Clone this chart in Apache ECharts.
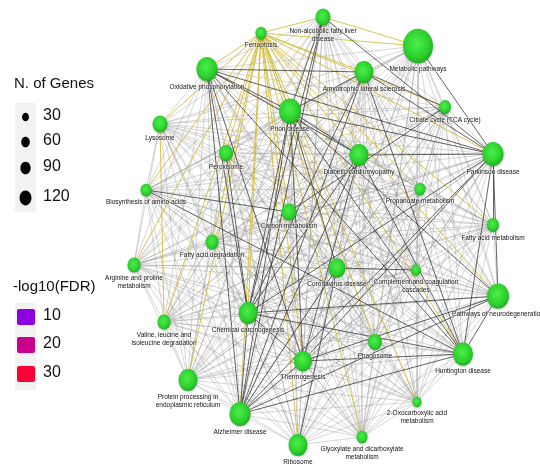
<!DOCTYPE html>
<html><head><meta charset="utf-8">
<script src="https://cdn.jsdelivr.net/npm/echarts@6/dist/echarts.min.js"></script>
<style>html,body{margin:0;padding:0;background:#fff}#c{width:540px;height:471px}</style>
</head><body><div id="c"></div>
<script>
// ---- data ----
const nodeNames = ["Ferroptosis","Non-alcoholic fatty liver disease","Metabolic pathways","Oxidative phosphorylation","Amyotrophic lateral sclerosis","Citrate cycle (TCA cycle)","Prion disease","Lysosome","Peroxisome","Diabetic cardiomyopathy","Parkinson disease","Biosynthesis of amino acids","Propanoate metabolism","Carbon metabolism","Fatty acid metabolism","Fatty acid degradation","Arginine and proline metabolism","Coronavirus disease","Complement and coagulation cascades","Pathways of neurodegeneration","Chemical carcinogenesis","Valine, leucine and isoleucine degradation","Phagosome","Thermogenesis","Huntington disease","Protein processing in endoplasmic reticulum","2-Oxocarboxylic acid metabolism","Alzheimer disease","Ribosome","Glyoxylate and dicarboxylate metabolism"];
const nodeLabels = ["Ferroptosis","Non-alcoholic fatty liver\ndisease","Metabolic pathways","Oxidative phosphorylation","Amyotrophic lateral sclerosis","Citrate cycle (TCA cycle)","Prion disease","Lysosome","Peroxisome","Diabetic cardiomyopathy","Parkinson disease","Biosynthesis of amino acids","Propanoate metabolism","Carbon metabolism","Fatty acid metabolism","Fatty acid degradation","Arginine and proline\nmetabolism","Coronavirus disease","Complement and coagulation\ncascades","Pathways of neurodegeneration","Chemical carcinogenesis","Valine, leucine and\nisoleucine degradation","Phagosome","Thermogenesis","Huntington disease","Protein processing in\nendoplasmic reticulum","2-Oxocarboxylic acid\nmetabolism","Alzheimer disease","Ribosome","Glyoxylate and dicarboxylate\nmetabolism"];
// network layout coordinates (layout space)
const layoutX = [261,323,418,207,364,445,290,160,226,359,493,146,420,289,493,212,134,337,416,498,248,164,375,303,463,188,417,240,298,362];
const layoutY = [33,17,46,69,72,107,111,124,153,155,154,190,189,212,225,242,265,268,270,296,313,322,342,361,354,380,402,414,445,437];
const nGenes = [27,50,200,98,80,32,107,50,43,80,98,27,27,50,32,38,38,64,22,107,80,38,43,72,89,80,18,98,80,27];

const yellowEdges = [
 ["Ferroptosis","Non-alcoholic fatty liver disease"],["Ferroptosis","Metabolic pathways"],["Ferroptosis","Oxidative phosphorylation"],
 ["Ferroptosis","Amyotrophic lateral sclerosis"],["Ferroptosis","Citrate cycle (TCA cycle)"],["Ferroptosis","Prion disease"],
 ["Ferroptosis","Lysosome"],["Ferroptosis","Peroxisome"],["Ferroptosis","Diabetic cardiomyopathy"],["Ferroptosis","Parkinson disease"],
 ["Ferroptosis","Biosynthesis of amino acids"],["Ferroptosis","Propanoate metabolism"],["Ferroptosis","Carbon metabolism"],
 ["Ferroptosis","Fatty acid metabolism"],["Ferroptosis","Fatty acid degradation"],["Ferroptosis","Arginine and proline metabolism"],
 ["Ferroptosis","Coronavirus disease"],["Ferroptosis","Pathways of neurodegeneration"],["Ferroptosis","Chemical carcinogenesis"],
 ["Ferroptosis","Valine, leucine and isoleucine degradation"],["Ferroptosis","Phagosome"],["Ferroptosis","Thermogenesis"],
 ["Ferroptosis","Huntington disease"],["Ferroptosis","Protein processing in endoplasmic reticulum"],["Ferroptosis","2-Oxocarboxylic acid metabolism"],
 ["Ferroptosis","Alzheimer disease"],["Ferroptosis","Ribosome"],["Ferroptosis","Glyoxylate and dicarboxylate metabolism"],
 ["Lysosome","Valine, leucine and isoleucine degradation"],["Non-alcoholic fatty liver disease","Metabolic pathways"]
];
const darkEdges = [
 ["Oxidative phosphorylation","Prion disease"],["Oxidative phosphorylation","Amyotrophic lateral sclerosis"],["Oxidative phosphorylation","Parkinson disease"],
 ["Oxidative phosphorylation","Chemical carcinogenesis"],["Oxidative phosphorylation","Thermogenesis"],["Oxidative phosphorylation","Alzheimer disease"],
 ["Oxidative phosphorylation","Huntington disease"],["Oxidative phosphorylation","Diabetic cardiomyopathy"],
 ["Non-alcoholic fatty liver disease","Prion disease"],["Non-alcoholic fatty liver disease","Chemical carcinogenesis"],["Non-alcoholic fatty liver disease","Alzheimer disease"],
 ["Non-alcoholic fatty liver disease","Parkinson disease"],
 ["Amyotrophic lateral sclerosis","Prion disease"],["Amyotrophic lateral sclerosis","Parkinson disease"],["Amyotrophic lateral sclerosis","Chemical carcinogenesis"],
 ["Amyotrophic lateral sclerosis","Alzheimer disease"],["Amyotrophic lateral sclerosis","Huntington disease"],
 ["Prion disease","Parkinson disease"],["Prion disease","Chemical carcinogenesis"],["Prion disease","Alzheimer disease"],["Prion disease","Huntington disease"],
 ["Prion disease","Pathways of neurodegeneration"],["Prion disease","Thermogenesis"],["Prion disease","Diabetic cardiomyopathy"],
 ["Diabetic cardiomyopathy","Parkinson disease"],["Diabetic cardiomyopathy","Chemical carcinogenesis"],["Diabetic cardiomyopathy","Alzheimer disease"],
 ["Diabetic cardiomyopathy","Huntington disease"],["Diabetic cardiomyopathy","Thermogenesis"],
 ["Parkinson disease","Chemical carcinogenesis"],["Parkinson disease","Thermogenesis"],["Parkinson disease","Huntington disease"],
 ["Parkinson disease","Pathways of neurodegeneration"],["Parkinson disease","Alzheimer disease"],
 ["Chemical carcinogenesis","Thermogenesis"],["Chemical carcinogenesis","Huntington disease"],["Chemical carcinogenesis","Pathways of neurodegeneration"],
 ["Chemical carcinogenesis","Alzheimer disease"],
 ["Thermogenesis","Huntington disease"],["Thermogenesis","Pathways of neurodegeneration"],["Thermogenesis","Alzheimer disease"],
 ["Huntington disease","Pathways of neurodegeneration"],["Huntington disease","Alzheimer disease"],["Alzheimer disease","Pathways of neurodegeneration"],
 ["Coronavirus disease","Ribosome"],["Coronavirus disease","Complement and coagulation cascades"],
 ["Carbon metabolism","Citrate cycle (TCA cycle)"],["Carbon metabolism","Biosynthesis of amino acids"],
 ["Biosynthesis of amino acids","Huntington disease"],["Peroxisome","Chemical carcinogenesis"],["Amyotrophic lateral sclerosis","Citrate cycle (TCA cycle)"],
 ["Metabolic pathways","Parkinson disease"],["Prion disease","Coronavirus disease"],
 ["Alzheimer disease","Coronavirus disease"],["Fatty acid metabolism","Parkinson disease"]
];

const sizeLegendValues = [30, 60, 90, 120];
const sizeLegendLabels = ["30", "60", "90", "120"];
const fdrLegendValues = [10, 20, 30];
const fdrLegendLabels = ["10", "20", "30"];

// ---- build ----
const idx = {}; nodeNames.forEach((n, i) => idx[n] = i);
const nodeSize = g => 2.12 * Math.sqrt(g);
const keySize = g => 5.3 + 0.055 * g;
const fdrColor = v => v <= 10 ? '#8b00e0' : (v <= 20 ? '#c8008c' : '#ff0036');

const nodeColor = {
  type: 'radial', x: 0.45, y: 0.42, r: 0.6,
  colorStops: [{offset: 0, color: '#4cee4c'}, {offset: 0.7, color: '#2cd02c'}, {offset: 1, color: '#1fae1f'}]
};
const nodes = nodeNames.map((n, i) => ({
  name: n,
  value: [layoutX[i], layoutY[i]],
  symbolSize: [nodeSize(nGenes[i]), nodeSize(nGenes[i]) * 1.15],
  label: { formatter: nodeLabels[i] }
}));

const seen = new Set();
const key = (a, b) => a < b ? a + '|' + b : b + '|' + a;
const links = [];
const yl = [], dl = [];
yellowEdges.forEach(([a, b]) => { seen.add(key(idx[a], idx[b])); yl.push({source: idx[a], target: idx[b],
  lineStyle: {color: '#d2b832', width: 1, opacity: 0.85}}); });
darkEdges.forEach(([a, b]) => { seen.add(key(idx[a], idx[b])); dl.push({source: idx[a], target: idx[b],
  lineStyle: {color: '#303030', width: 1, opacity: 0.75}}); });
// remaining pairs share weaker similarity and are drawn in grey
for (let i = 0; i < nodeNames.length; i++) for (let j = i + 1; j < nodeNames.length; j++) {
  if (!seen.has(key(i, j))) links.push({source: i, target: j, lineStyle: {color: '#8c8c8c', width: 0.7, opacity: 0.5}});
}
links.push(...yl, ...dl);

// legend graphics
const g = [];
g.push({type: 'text', left: 14, top: 76, style: {text: 'N. of Genes', font: '15px "Liberation Sans", Arial', fill: '#111'}});
g.push({type: 'rect', shape: {x: 15, y: 103, width: 21, height: 109}, style: {fill: '#f2f2f2'}});
const sizeY = [117, 142, 168, 198];
sizeLegendValues.forEach((v, i) => {
  const s = keySize(v);
  g.push({type: 'ellipse', shape: {cx: 25.5, cy: sizeY[i], rx: s / 2, ry: s * 0.62}, style: {fill: '#000'}});
  g.push({type: 'text', left: 43, top: sizeY[i] - 9, style: {text: sizeLegendLabels[i], font: '16px "Liberation Sans", Arial', fill: '#111'}});
});
g.push({type: 'text', left: 13, top: 279, style: {text: '-log10(FDR)', font: '15px "Liberation Sans", Arial', fill: '#111'}});
g.push({type: 'rect', shape: {x: 15, y: 303, width: 21, height: 87}, style: {fill: '#f2f2f2'}});
const fdrY = [317, 345, 374];
fdrLegendValues.forEach((v, i) => {
  g.push({type: 'rect', shape: {x: 17, y: fdrY[i] - 8, width: 18, height: 16, r: 2}, style: {fill: fdrColor(v)}});
  g.push({type: 'text', left: 43, top: fdrY[i] - 9, style: {text: fdrLegendLabels[i], font: '16px "Liberation Sans", Arial', fill: '#111'}});
});

const chart = echarts.init(document.getElementById('c'), null, {renderer: 'canvas'});
chart.setOption({
  backgroundColor: '#fff',
  animation: false,
  grid: {left: 0, right: 0, top: 0, bottom: 0},
  xAxis: {type: 'value', min: 0, max: 540, show: false},
  yAxis: {type: 'value', min: 0, max: 471, inverse: true, show: false},
  graphic: g,
  series: [{
    type: 'graph',
    coordinateSystem: 'cartesian2d',
    layout: 'none',
    data: nodes,
    links: links,
    symbol: 'circle',
    itemStyle: {color: nodeColor, shadowColor: 'rgba(0,0,0,0.25)', shadowBlur: 2, shadowOffsetY: 1},
    label: {show: true, position: 'bottom', distance: 2, fontSize: 6.5, color: '#111',
      fontFamily: '"Liberation Sans", Arial', lineHeight: 8, align: 'center',
      textBorderColor: 'rgba(255,255,255,0.7)', textBorderWidth: 1},
    lineStyle: {curveness: 0},
    emphasis: {disabled: true}
  }]
});
</script></body></html>
